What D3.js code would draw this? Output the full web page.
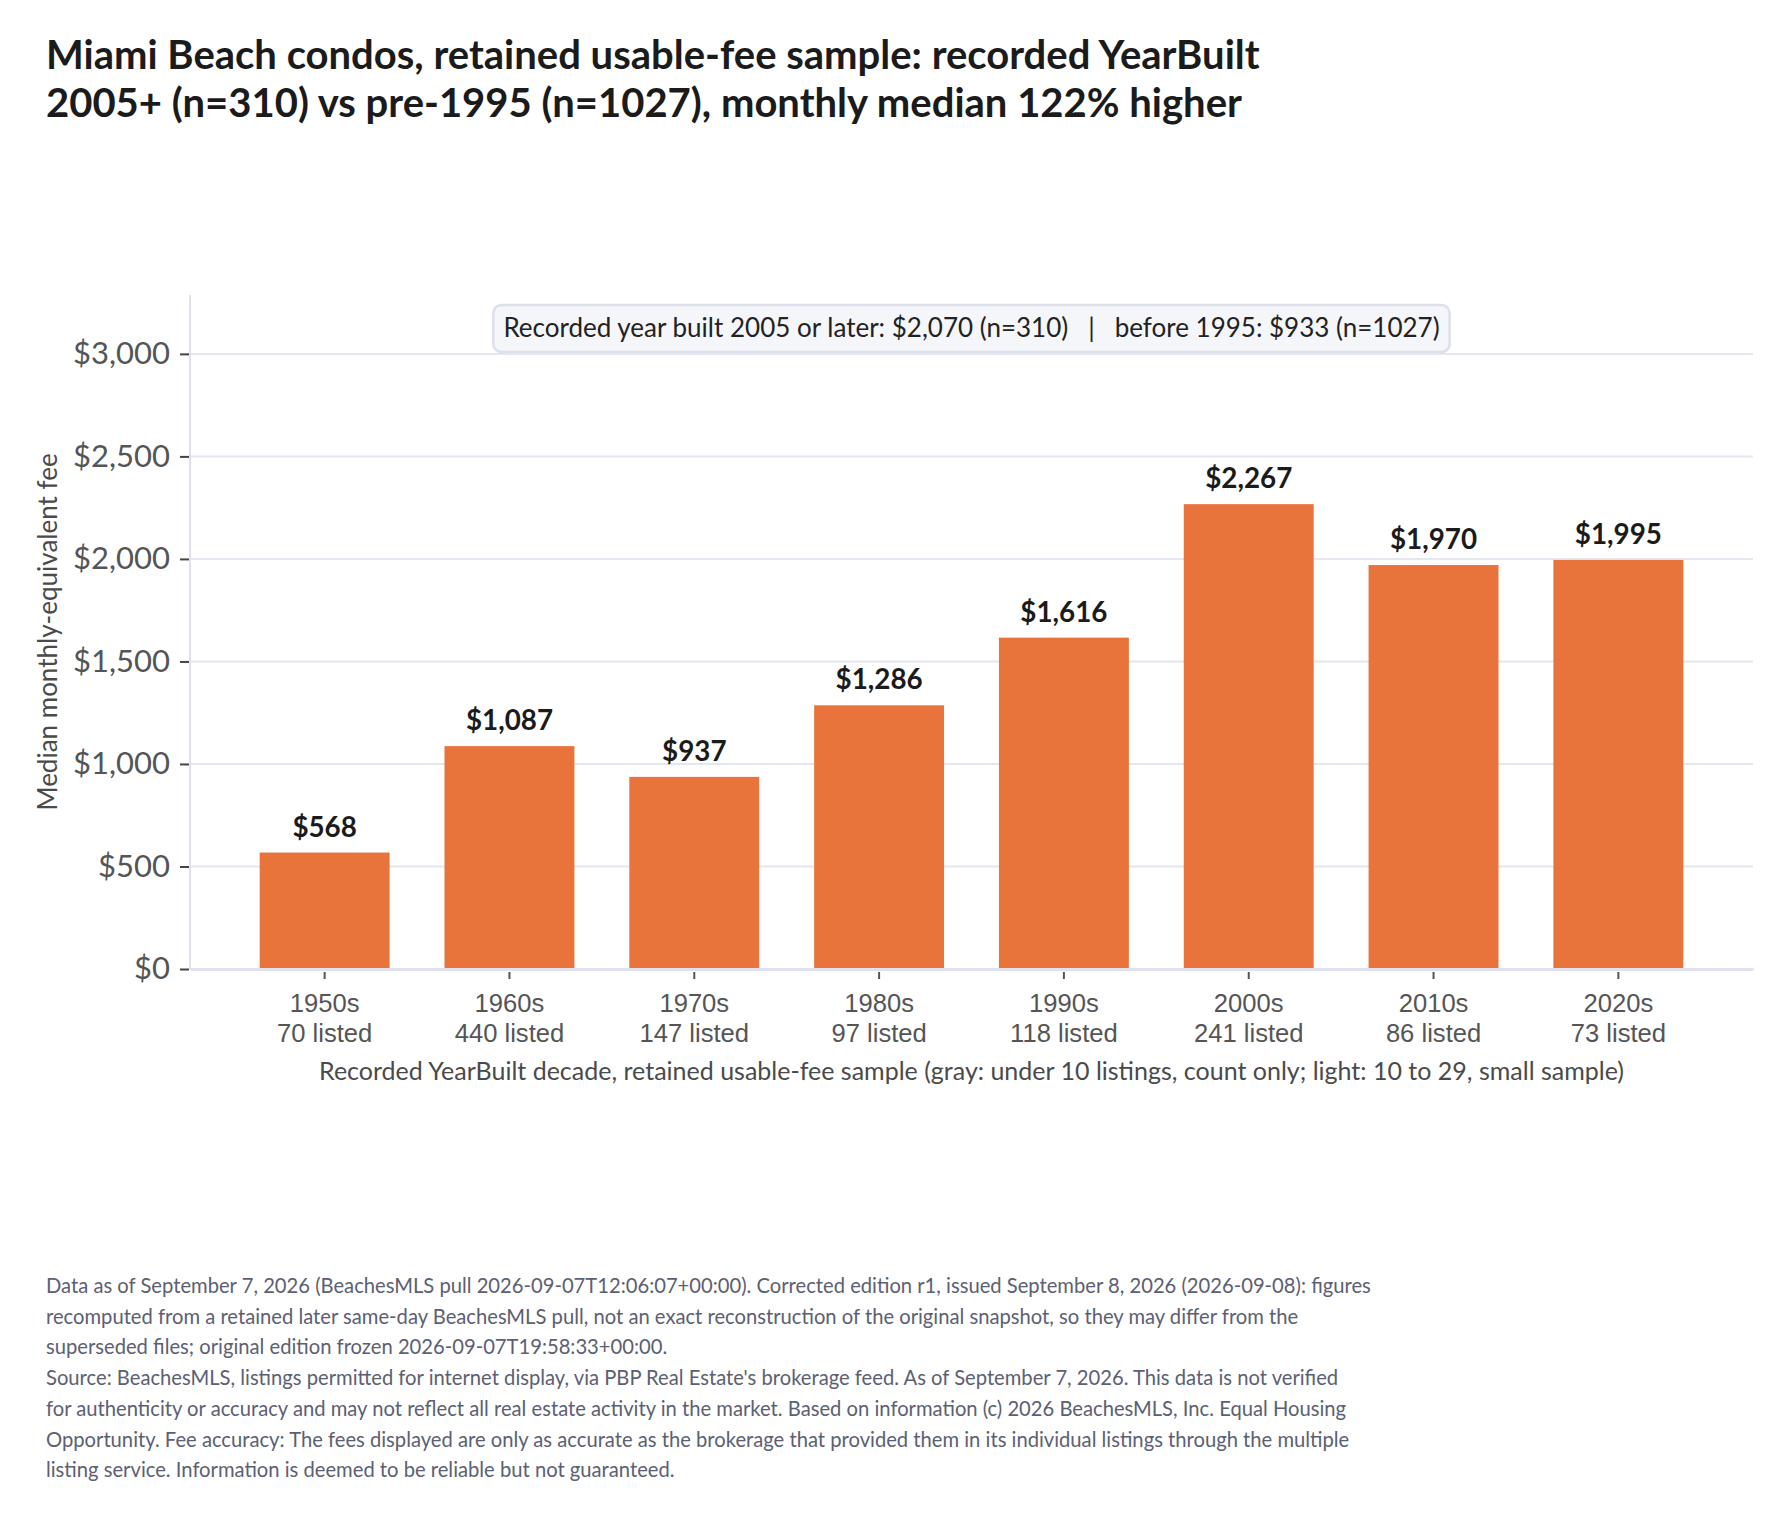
<!DOCTYPE html>
<html>
<head>
<meta charset="utf-8">
<script src="https://cdn.jsdelivr.net/npm/d3@7"></script>
<style>
  body { margin: 0; background: #fff; }
  svg { display: block; font-family: Lato, "Open Sans", sans-serif; }
</style>
</head>
<body>
<svg id="chart"></svg>
<script>
// decades and values
const decades = ["1950s", "1960s", "1970s", "1980s", "1990s", "2000s", "2010s", "2020s"];
const listedCounts = [70, 440, 147, 97, 118, 241, 86, 73];
const medianFees = [568, 1087, 937, 1286, 1616, 2267, 1970, 1995];
const yTicks = [0, 500, 1000, 1500, 2000, 2500, 3000];

const titleLines = [
    "Miami Beach condos, retained usable-fee sample: recorded YearBuilt",
    "2005+ (n=310) vs pre-1995 (n=1027), monthly median 122% higher"
];
const noteText = "Recorded year built 2005 or later: $2,070 (n=310)   |   before 1995: $933 (n=1027)";
const xAxisLabel = "Recorded YearBuilt decade, retained usable-fee sample (gray: under 10 listings, count only; light: 10 to 29, small sample)";
const yAxisLabel = "Median monthly-equivalent fee";
const footerLines = [
    "Data as of September 7, 2026 (BeachesMLS pull 2026-09-07T12:06:07+00:00). Corrected edition r1, issued September 8, 2026 (2026-09-08): figures",
    "recomputed from a retained later same-day BeachesMLS pull, not an exact reconstruction of the original snapshot, so they may differ from the",
    "superseded files; original edition frozen 2026-09-07T19:58:33+00:00.",
    "Source: BeachesMLS, listings permitted for internet display, via PBP Real Estate's brokerage feed. As of September 7, 2026. This data is not verified",
    "for authenticity or accuracy and may not reflect all real estate activity in the market. Based on information (c) 2026 BeachesMLS, Inc. Equal Housing",
    "Opportunity. Fee accuracy: The fees displayed are only as accurate as the brokerage that provided them in its individual listings through the multiple",
    "listing service. Information is deemed to be reliable but not guaranteed."
];

const width = 1791, height = 1517;
const margin = { top: 295, right: 38, bottom: 548, left: 190 };
const plotW = width - margin.left - margin.right;
const plotH = height - margin.top - margin.bottom;

const svg = d3.select("#chart")
    .attr("width", width)
    .attr("height", height)
    .attr("viewBox", [0, 0, width, height]);

const data = decades.map((d, i) => ({ decade: d, n: listedCounts[i], fee: medianFees[i] }));

const xScale = d3.scaleBand().domain(decades).range([0, plotW]).paddingInner(0.297).paddingOuter(0.377);
const yScale = d3.scaleLinear().domain([0, d3.max(medianFees) * 1.45]).range([plotH, 0]);
const fmt = d3.format("$,");

// title
svg.append("text")
    .attr("x", 46)
    .attr("y", 69)
    .attr("fill", "#1b1b1b")
    .attr("font-size", 40)
    .attr("font-weight", 700)
    .selectAll("tspan")
    .data(titleLines)
    .join("tspan")
    .attr("x", 46)
    .attr("dy", (d, i) => i === 0 ? 0 : 48)
    .text(d => d);

const g = svg.append("g").attr("transform", `translate(${margin.left},${margin.top})`);

// gridlines
g.append("g")
    .selectAll("line")
    .data(yTicks)
    .join("line")
    .attr("x1", 0)
    .attr("x2", plotW)
    .attr("y1", d => yScale(d))
    .attr("y2", d => yScale(d))
    .attr("stroke", "#e4e6f0")
    .attr("stroke-width", 2);

// bars
g.append("g")
    .selectAll("rect")
    .data(data)
    .join("rect")
    .attr("x", d => xScale(d.decade))
    .attr("y", d => yScale(d.fee))
    .attr("width", xScale.bandwidth())
    .attr("height", d => plotH - yScale(d.fee))
    .attr("fill", "#e8743b");

// value labels
g.append("g")
    .selectAll("text")
    .data(data)
    .join("text")
    .attr("x", d => xScale(d.decade) + xScale.bandwidth() / 2)
    .attr("y", d => yScale(d.fee) - 16)
    .attr("text-anchor", "middle")
    .attr("font-size", 27.8)
    .attr("font-weight", 700)
    .attr("fill", "#1b1b1b")
    .text(d => fmt(d.fee));

// y axis
const yAxisGroup = g.append("g")
    .call(d3.axisLeft(yScale).tickValues(yTicks).tickFormat(fmt).tickSize(10).tickPadding(10));
yAxisGroup.select(".domain").remove();
yAxisGroup.selectAll(".tick line").attr("stroke", "#444").attr("stroke-width", 2).attr("x2", -1).attr("x1", -10);
yAxisGroup.selectAll(".tick text")
    .attr("fill", "#555")
    .attr("font-size", 31)
    .attr("font-family", "Lato, sans-serif");

g.append("line")
    .attr("x1", 0).attr("x2", 0)
    .attr("y1", 0).attr("y2", plotH)
    .attr("stroke", "#dfe2ec")
    .attr("stroke-width", 2);

// x axis
const xAxisGroup = g.append("g")
    .attr("transform", `translate(0,${plotH})`)
    .call(d3.axisBottom(xScale).tickSize(0).tickFormat(""));
xAxisGroup.select(".domain").attr("stroke", "#dfe2ec").attr("stroke-width", 3);
xAxisGroup.selectAll(".tick line")
    .attr("y1", 3).attr("y2", 10)
    .attr("stroke", "#555")
    .attr("stroke-width", 2);

xAxisGroup.selectAll(".tick")
    .data(data)
    .append("text")
    .attr("fill", "#555")
    .attr("font-size", 25.6)
    .attr("text-anchor", "middle")
    .selectAll("tspan")
    .data(d => [d.decade, `${d.n} listed`])
    .join("tspan")
    .attr("x", 0)
    .attr("y", (d, i) => 43 + i * 29.5)
    .text(d => d);

// axis titles
g.append("text")
    .attr("x", plotW / 2)
    .attr("y", plotH + 111)
    .attr("text-anchor", "middle")
    .attr("fill", "#4a4a4a")
    .attr("font-size", 25)
    .text(xAxisLabel);

g.append("text")
    .attr("transform", "rotate(-90)")
    .attr("x", -plotH / 2)
    .attr("y", -margin.left + 57)
    .attr("text-anchor", "middle")
    .attr("fill", "#4a4a4a")
    .attr("font-size", 26)
    .text(yAxisLabel);

// annotation box
const note = g.append("g");
const noteLabel = note.append("text")
    .attr("x", plotW / 2)
    .attr("y", 42)
    .attr("text-anchor", "middle")
    .attr("fill", "#222")
    .attr("font-size", 26)
    .style("white-space", "pre")
    .text(noteText);
const bb = noteLabel.node().getBBox();
note.insert("rect", "text")
    .attr("x", bb.x - 10)
    .attr("y", 10)
    .attr("width", bb.width + 20)
    .attr("height", 47)
    .attr("rx", 8)
    .attr("fill", "#f5f6fa")
    .attr("stroke", "#dde0eb")
    .attr("stroke-width", 2.5);

// footer
svg.append("g")
    .selectAll("text")
    .data(footerLines)
    .join("text")
    .attr("x", 46)
    .attr("y", (d, i) => 1293 + i * 30.7)
    .attr("fill", "#5b6073")
    .attr("font-size", 20.2)
    .text(d => d);
</script>
</body>
</html>
